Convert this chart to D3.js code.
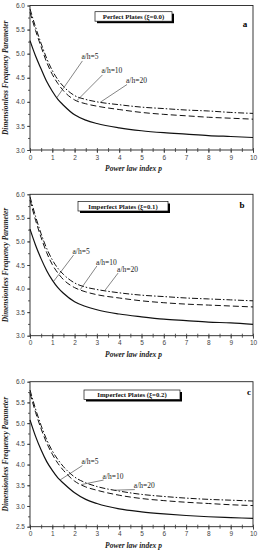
<!DOCTYPE html>
<html>
<head>
<meta charset="utf-8">
<script src="https://cdn.jsdelivr.net/npm/d3@7"></script>
<style>
  body { margin: 0; background: #fff; }
  svg { display: block; }
  .tick text { font-family: "Liberation Sans", Arial, sans-serif; font-size: 6.5px; fill: #444; }
  .axis path, .axis line { stroke: #333; stroke-width: 0.8; }
</style>
</head>
<body>
<svg id="chart" width="263" height="550"></svg>
<script>
// power law index p (shared by all panels)
const pIndex = [0, 0.25, 0.5, 0.75, 1, 1.25, 1.5, 2, 2.5, 3, 4, 5, 6, 7, 8, 9, 10];
const xTicks = [0, 1, 2, 3, 4, 5, 6, 7, 8, 9, 10];
const seriesNames = ["a/h=5", "a/h=10", "a/h=20"];

// panel a : perfect plates (xi = 0.0)
const perfectAh5  = [5.27, 4.95, 4.68, 4.42, 4.22, 4.05, 3.93, 3.73, 3.62, 3.55, 3.46, 3.40, 3.36, 3.33, 3.30, 3.28, 3.26];
const perfectAh10 = [5.86, 5.48, 5.14, 4.82, 4.57, 4.38, 4.23, 4.04, 3.96, 3.91, 3.84, 3.78, 3.74, 3.71, 3.68, 3.66, 3.64];
const perfectAh20 = [5.93, 5.55, 5.21, 4.90, 4.65, 4.46, 4.32, 4.13, 4.05, 4.00, 3.94, 3.89, 3.86, 3.83, 3.81, 3.78, 3.76];

// panel b : imperfect plates (xi = 0.1)
const imp1Ah5  = [5.26, 4.92, 4.63, 4.38, 4.18, 4.02, 3.90, 3.72, 3.62, 3.55, 3.46, 3.40, 3.35, 3.32, 3.29, 3.27, 3.24];
const imp1Ah10 = [5.88, 5.45, 5.08, 4.76, 4.51, 4.33, 4.19, 4.02, 3.93, 3.87, 3.80, 3.74, 3.70, 3.67, 3.65, 3.63, 3.61];
const imp1Ah20 = [5.95, 5.53, 5.16, 4.85, 4.61, 4.43, 4.30, 4.12, 4.03, 3.98, 3.91, 3.86, 3.83, 3.80, 3.78, 3.76, 3.74];

// panel c : imperfect plates (xi = 0.2)
const imp2Ah5  = [5.08, 4.68, 4.35, 4.07, 3.86, 3.68, 3.55, 3.32, 3.16, 3.06, 2.93, 2.86, 2.81, 2.77, 2.74, 2.72, 2.70];
const imp2Ah10 = [5.72, 5.26, 4.86, 4.52, 4.25, 4.03, 3.86, 3.60, 3.46, 3.38, 3.26, 3.18, 3.13, 3.09, 3.06, 3.03, 3.01];
const imp2Ah20 = [5.80, 5.34, 4.94, 4.60, 4.33, 4.12, 3.95, 3.70, 3.56, 3.47, 3.36, 3.28, 3.23, 3.19, 3.16, 3.14, 3.12];

// y tick labels per panel
const yTicksAB = [3.0, 3.5, 4.0, 4.5, 5.0, 5.5, 6.0];
const yTicksC  = [2.5, 3.0, 3.5, 4.0, 4.5, 5.0, 5.5, 6.0];

const titles = ["Perfect Plates (\u03BE=0.0)", "Imperfect Plates (\u03BE=0.1)", "Imperfect Plates (\u03BE=0.2)"];
const letters = ["a", "b", "c"];

// label anchors: [p on curve, p of text, value of text]
const labelsA = [[1.2, 2.35, 4.87], [2.1, 3.25, 4.58], [3.15, 4.35, 4.38]];
const labelsB = [[1.05, 1.95, 4.73], [2.25, 3.0, 4.5], [3.35, 3.95, 4.35]];
const labelsC = [[1.35, 2.35, 4.0], [2.3, 3.3, 3.65], [3.8, 4.7, 3.42]];

const panels = [
  { top: 5.5,   bottom: 150,   yMin: 3.0, yTicks: yTicksAB, data: [perfectAh5, perfectAh10, perfectAh20], labels: labelsA,
    box: [95, 11.7, 77], letterPos: [245, 27] },
  { top: 194.3, bottom: 335.7, yMin: 3.0, yTicks: yTicksAB, data: [imp1Ah5, imp1Ah10, imp1Ah20], labels: labelsB,
    box: [78, 201.5, 90], letterPos: [242, 208] },
  { top: 381.7, bottom: 526.7, yMin: 2.5, yTicks: yTicksC, data: [imp2Ah5, imp2Ah10, imp2Ah20], labels: labelsC,
    box: [84, 390, 96], letterPos: [249, 395] }
];

const left = 30, right = 253;
const dashes = [null, "6,3", "6,2,1.5,2"];

const svg = d3.select("#chart");
const x = d3.scaleLinear().domain([0, 10]).range([left, right]);

panels.forEach((pn, i) => {
  const y = d3.scaleLinear().domain([pn.yMin, 6]).range([pn.bottom, pn.top]);
  const g = svg.append("g").attr("class", "panel");

  // frame
  g.append("rect")
    .attr("x", left).attr("y", pn.top)
    .attr("width", right - left).attr("height", pn.bottom - pn.top)
    .attr("fill", "none").attr("stroke", "#222").attr("stroke-width", 0.9);

  // x axis: major and minor ticks, crossing the axis line
  const minorX = d3.range(0, 10.01, 0.5);
  g.append("g").attr("class", "axis")
    .attr("transform", "translate(0," + pn.bottom + ")")
    .call(d3.axisBottom(x).tickValues(minorX).tickSize(2).tickFormat(""))
    .call(a => a.select(".domain").remove());
  g.append("g").attr("class", "axis")
    .attr("transform", "translate(0," + pn.bottom + ")")
    .call(d3.axisBottom(x).tickValues(minorX).tickSize(-2).tickFormat(""))
    .call(a => a.select(".domain").remove());
  g.append("g").attr("class", "axis")
    .attr("transform", "translate(0," + pn.bottom + ")")
    .call(d3.axisBottom(x).tickValues(xTicks).tickSize(3).tickPadding(2).tickFormat(d3.format("d")))
    .call(a => a.select(".domain").remove());

  // y axis
  const minorY = d3.range(pn.yMin, 6.001, 0.25);
  g.append("g").attr("class", "axis")
    .attr("transform", "translate(" + left + ",0)")
    .call(d3.axisLeft(y).tickValues(minorY).tickSize(2).tickFormat(""))
    .call(a => a.select(".domain").remove());
  g.append("g").attr("class", "axis")
    .attr("transform", "translate(" + left + ",0)")
    .call(d3.axisLeft(y).tickValues(pn.yTicks).tickSize(3).tickPadding(2).tickFormat(d3.format(".1f")))
    .call(a => a.select(".domain").remove());

  // curves
  const line = d3.line()
    .x((d, k) => x(pIndex[k]))
    .y(d => y(d))
    .curve(d3.curveMonotoneX);
  pn.data.forEach((s, k) => {
    g.append("path")
      .datum(s)
      .attr("d", line)
      .attr("fill", "none")
      .attr("stroke", "#111")
      .attr("stroke-width", k === 0 ? 1.2 : 1)
      .attr("stroke-dasharray", dashes[k]);
  });

  // leader lines and labels
  pn.labels.forEach((lb, k) => {
    const onCurve = d3.scaleLinear().domain(pIndex).range(pn.data[k])(lb[0]);
    g.append("line")
      .attr("x1", x(lb[0])).attr("y1", y(onCurve))
      .attr("x2", x(lb[1])).attr("y2", y(lb[2]) + 1)
      .attr("stroke", "#333").attr("stroke-width", 0.6);
    g.append("text")
      .attr("x", x(lb[1]) - 1).attr("y", y(lb[2]) - 0.5)
      .attr("font-family", "'Liberation Serif', 'Times New Roman', serif")
      .attr("font-size", 7.5)
      .attr("fill", "#222")
      .text(seriesNames[k]);
  });

  // title box with shadow
  const [bx, by, bw] = pn.box;
  g.append("rect").attr("x", bx + 2).attr("y", by + 2).attr("width", bw).attr("height", 9.5).attr("fill", "#000");
  g.append("rect").attr("x", bx).attr("y", by).attr("width", bw).attr("height", 9.5)
    .attr("fill", "#fff").attr("stroke", "#111").attr("stroke-width", 0.7);
  g.append("text")
    .attr("x", bx + bw / 2).attr("y", by + 7.2)
    .attr("text-anchor", "middle")
    .attr("font-family", "'Liberation Serif', 'Times New Roman', serif")
    .attr("font-weight", "bold").attr("font-size", 6.8)
    .attr("fill", "#111")
    .text(titles[i]);

  // panel letter
  g.append("text")
    .attr("x", pn.letterPos[0]).attr("y", pn.letterPos[1])
    .attr("text-anchor", "middle")
    .attr("font-family", "'Liberation Serif', 'Times New Roman', serif")
    .attr("font-weight", "bold").attr("font-size", 9)
    .text(letters[i]);

  // axis titles
  g.append("text")
    .attr("x", (left + right) / 2 - 8).attr("y", pn.bottom + 21)
    .attr("text-anchor", "middle")
    .attr("font-family", "'Liberation Serif', 'Times New Roman', serif")
    .attr("font-weight", "bold").attr("font-style", "italic").attr("font-size", 7.5)
    .attr("fill", "#222")
    .text("Power law index p");
  g.append("text")
    .attr("transform", "translate(8," + ((pn.top + pn.bottom) / 2) + ") rotate(-90)")
    .attr("text-anchor", "middle")
    .attr("font-family", "'Liberation Serif', 'Times New Roman', serif")
    .attr("font-weight", "bold").attr("font-style", "italic").attr("font-size", 7.5)
    .attr("fill", "#222")
    .text("Dimensionless Frequency Parameter");
});
</script>
</body>
</html>
